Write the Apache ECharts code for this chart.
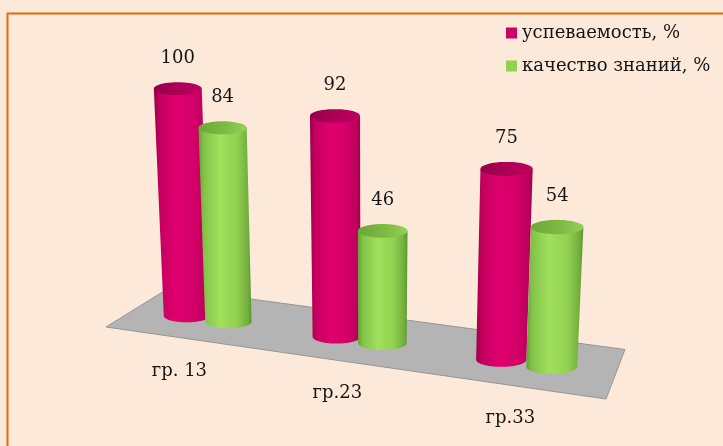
<!DOCTYPE html>
<html>
<head>
<meta charset="utf-8">
<script src="https://cdn.jsdelivr.net/npm/echarts@6/dist/echarts.min.js"></script>
<style>
  html, body { margin: 0; padding: 0; background: #fde9d9; }
  #chart { width: 723px; height: 446px; }
</style>
</head>
<body>
<div id="chart"></div>
<script>
const groups = ["гр. 13", "гр.23", "гр.33"];
const uspevaemost = [100, 92, 75];
const kachestvo = [84, 46, 54];
const seriesNames = ["успеваемость, %", "качество знаний, %"];

const FONT = "DejaVu Serif";
const FONT_SIZE = 18;
const TEXT_COLOR = "#151515";

// floor perspective: group index -> screen x, and depth scale
const P = { a: 135.66, b: 207.4, c: -0.04521 };
const projX = (X) => (P.a * X + P.b) / (P.c * X + 1);
const depthScale = (X) => 1 / (P.c * X + 1);
const floorY = (u) => 322.3 + 0.1416 * (u - 186.5);
const VP_X = 370;
const VP_D = 4700;
const SERIES_SHIFT = 0.144;

const palettes = {
  red: {
    legend: "#cc0066",
    body: [
      { offset: 0, color: "#9c0049" },
      { offset: 0.1, color: "#c2005e" },
      { offset: 0.4, color: "#e0006f" },
      { offset: 0.7, color: "#d6006a" },
      { offset: 0.93, color: "#bc005c" },
      { offset: 1, color: "#98004a" }
    ],
    top: [
      { offset: 0, color: "#94004a" },
      { offset: 0.5, color: "#ad0056" },
      { offset: 1, color: "#c0005f" }
    ]
  },
  green: {
    legend: "#92d050",
    body: [
      { offset: 0, color: "#64a034" },
      { offset: 0.1, color: "#82c248" },
      { offset: 0.4, color: "#a0e05c" },
      { offset: 0.72, color: "#92d252" },
      { offset: 0.93, color: "#72ae3e" },
      { offset: 1, color: "#5a9430" }
    ],
    top: [
      { offset: 0, color: "#6ca63a" },
      { offset: 0.6, color: "#80bc46" },
      { offset: 1, color: "#94d254" }
    ]
  }
};

const ellipsePoints = (cx, cy, rx, ry, from, to, n) => {
  const pts = [];
  for (let i = 0; i <= n; i++) {
    const t = from + ((to - from) * i) / n;
    pts.push([cx + rx * Math.cos(t), cy + ry * Math.sin(t)]);
  }
  return pts;
};

const cylinder = (api, shift, palette) => {
  const idx = api.value(0);
  const val = api.value(1);
  const X = idx + shift;
  const s = depthScale(X);
  const cx = projX(X);
  const h0 = api.coord([idx, 0])[1] - api.coord([idx, val])[1];
  const len = h0 * Math.pow(s, 1.2);
  const ry = 6.5 * s;
  const w = 46 * s;
  const cyB = floorY(cx) - ry;
  const cyT = cyB - len;
  const tcx = cx + ((cx - VP_X) * len) / VP_D;
  const tw = w * (1 + len / VP_D);

  const body = [[tcx - tw / 2, cyT], [tcx + tw / 2, cyT]].concat(
    ellipsePoints(cx, cyB, w / 2, ry, 0, Math.PI, 30)
  );
  const top = ellipsePoints(tcx, cyT, tw / 2, ry, 0, Math.PI * 2, 48);

  return {
    type: "group",
    children: [
      {
        type: "polygon",
        shape: { points: body },
        style: { fill: new echarts.graphic.LinearGradient(0, 0, 1, 0, palette.body) }
      },
      {
        type: "polygon",
        shape: { points: top },
        style: { fill: new echarts.graphic.LinearGradient(0, 0, 1, 0, palette.top) }
      },
      {
        type: "text",
        style: {
          text: String(val),
          x: tcx,
          y: cyT - ry - 24,
          align: "center",
          verticalAlign: "middle",
          font: FONT_SIZE + "px " + FONT,
          fill: TEXT_COLOR
        }
      }
    ]
  };
};

const chart = echarts.init(document.getElementById("chart"));

chart.setOption({
  backgroundColor: "#fde9d9",
  animation: false,
  textStyle: { fontFamily: FONT },
  grid: { left: 100, right: 100, top: 50, height: 229 },
  xAxis: { type: "category", data: groups, show: false },
  yAxis: { type: "value", min: 0, max: 100, show: false },
  legend: {
    data: seriesNames,
    orient: "vertical",
    left: 506,
    top: 24,
    padding: 0,
    itemWidth: 11,
    itemHeight: 11,
    itemGap: 15,
    icon: "rect",
    textStyle: { fontFamily: FONT, fontSize: FONT_SIZE, color: TEXT_COLOR }
  },
  graphic: [
    {
      type: "polygon",
      z: 0,
      shape: { points: [[106, 327], [169, 288], [625, 349.5], [606, 399]] },
      style: { fill: "#b4b4b4", stroke: "#969696", lineWidth: 1 }
    },
    {
      type: "polyline",
      z: 0,
      shape: { points: [[7.5, 446], [7.5, 13.5], [723, 13.5]] },
      style: { stroke: "#e36c0a", lineWidth: 2, fill: null }
    }
  ],
  series: [
    {
      name: seriesNames[0],
      type: "custom",
      z: 3,
      clip: false,
      itemStyle: { color: palettes.red.legend },
      data: uspevaemost.map((v, i) => [i, v]),
      renderItem: (params, api) => cylinder(api, -SERIES_SHIFT, palettes.red)
    },
    {
      name: seriesNames[1],
      type: "custom",
      z: 4,
      clip: false,
      itemStyle: { color: palettes.green.legend },
      data: kachestvo.map((v, i) => [i, v]),
      renderItem: (params, api) => cylinder(api, SERIES_SHIFT, palettes.green)
    },
    {
      name: "axis",
      type: "custom",
      z: 3,
      clip: false,
      silent: true,
      data: groups.map((g, i) => [i, 0]),
      renderItem: (params, api) => {
        const idx = api.value(0);
        const x = projX(idx) - 28 + 6 * idx;
        return {
          type: "text",
          style: {
            text: groups[idx],
            x: x,
            y: floorY(x) + 50,
            align: "center",
            verticalAlign: "middle",
            font: FONT_SIZE + "px " + FONT,
            fill: TEXT_COLOR
          }
        };
      }
    }
  ]
});
</script>
</body>
</html>
